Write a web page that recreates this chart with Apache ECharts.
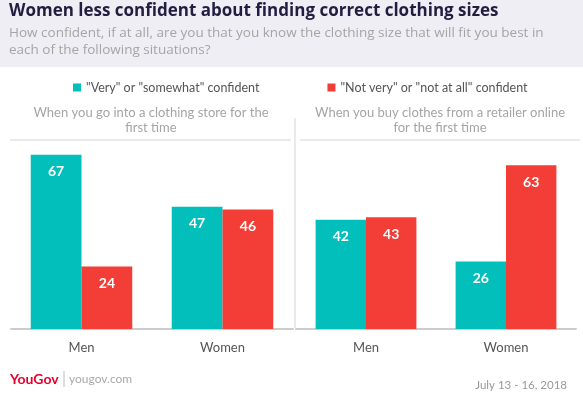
<!DOCTYPE html>
<html>
<head>
<meta charset="utf-8">
<script src="https://cdn.jsdelivr.net/npm/echarts@6/dist/echarts.min.js"></script>
<style>
  html, body { margin: 0; padding: 0; background: #fff; }
  #chart { width: 583px; height: 396px; }
</style>
</head>
<body>
<div id="chart"></div>
<script>
const categories = ["Men", "Women"];
const legendNames = ['"Very" or "somewhat" confident', '"Not very" or "not at all" confident'];
const storeConfident = [67, 47];
const storeNotConfident = [24, 46];
const onlineConfident = [42, 26];
const onlineNotConfident = [43, 63];

const TEAL = "#02bfbb";
const RED = "#f23e37";
const FONT = "Lato, 'Open Sans', sans-serif";
const HEAD_FONT = "'Open Sans', Lato, sans-serif";

let myChart = echarts.init(document.getElementById("chart"));

const barLabel = {
  show: true,
  position: "insideTop",
  distance: 10,
  color: "#fff",
  fontWeight: "bold",
  fontSize: 14,
  fontFamily: FONT,
};

const makeBar = (name, data, color, idx) => ({
  name: name,
  type: "bar",
  xAxisIndex: idx,
  yAxisIndex: idx,
  data: data,
  barGap: "0%",
  barCategoryGap: "28%",
  itemStyle: { color: color },
  label: barLabel,
  silent: true,
});

const xAxisBase = (idx) => ({
  type: "category",
  gridIndex: idx,
  data: categories,
  axisLine: { lineStyle: { color: "#cccccc", width: 2 } },
  axisTick: { show: false },
  axisLabel: { color: "#555", fontSize: 13, fontFamily: FONT, margin: 12 },
});

const yAxisBase = (idx) => ({
  type: "value",
  gridIndex: idx,
  min: 0,
  max: 70,
  show: false,
  splitLine: { show: false },
});

myChart.setOption({
  animation: false,
  textStyle: { fontFamily: FONT },
  legend: {
    data: legendNames,
    top: 76,
    left: 68,
    itemGap: 68,
    itemWidth: 8,
    itemHeight: 8,
    icon: "rect",
    textStyle: { color: "#555", fontSize: 12.5, fontFamily: FONT },
  },
  grid: [
    { left: 11, width: 282, top: 147, bottom: 67 },
    { left: 296, width: 280, top: 147, bottom: 67 },
  ],
  xAxis: [xAxisBase(0), xAxisBase(1)],
  yAxis: [yAxisBase(0), yAxisBase(1)],
  series: [
    makeBar(legendNames[0], storeConfident, TEAL, 0),
    makeBar(legendNames[1], storeNotConfident, RED, 0),
    makeBar(legendNames[0], onlineConfident, TEAL, 1),
    makeBar(legendNames[1], onlineNotConfident, RED, 1),
  ],
  graphic: [
    // header band
    { type: "rect", z: -10, shape: { x: 0, y: 0, width: 583, height: 67 }, style: { fill: "#efeef5" } },
    {
      type: "text", left: 9, top: 3,
      style: { text: "Women less confident about finding correct clothing sizes", fill: "#231d40", font: "bold 17px " + HEAD_FONT },
    },
    {
      type: "text", left: 9, top: 25,
      style: {
        text: "How confident, if at all, are you that you know the clothing size that will fit you best in\neach of the following situations?",
        fill: "#a5a5a5", font: "13.5px " + HEAD_FONT, lineHeight: 17,
      },
    },
    // panel titles
    {
      type: "text", x: 151, y: 105,
      style: { text: "When you go into a clothing store for the\nfirst time", fill: "#a5a5a5", font: "13px " + FONT, lineHeight: 15, textAlign: "center" },
    },
    {
      type: "text", x: 440, y: 105,
      style: { text: "When you buy clothes from a retailer online\nfor the first time", fill: "#a5a5a5", font: "13px " + FONT, lineHeight: 15, textAlign: "center" },
    },
    { type: "line", shape: { x1: 10, y1: 140, x2: 291, y2: 140 }, style: { stroke: "#d5d5d5", lineWidth: 1 } },
    { type: "line", shape: { x1: 300, y1: 140, x2: 580, y2: 140 }, style: { stroke: "#d5d5d5", lineWidth: 1 } },
    { type: "line", shape: { x1: 295, y1: 118, x2: 295, y2: 328 }, style: { stroke: "#d5d5d5", lineWidth: 1 } },
    // footer
    {
      type: "text", left: 10, top: 372,
      style: { text: "YouGov", fill: "#e4002b", font: "bold 14px " + FONT },
    },
    { type: "line", shape: { x1: 64, y1: 371, x2: 64, y2: 387 }, style: { stroke: "#bbb", lineWidth: 1 } },
    {
      type: "text", left: 69, top: 373,
      style: { text: "yougov.com", fill: "#aaa", font: "12px " + FONT },
    },
    {
      type: "text", right: 16, top: 379,
      style: { text: "July 13 - 16, 2018", fill: "#999", font: "11.5px " + FONT },
    },
  ],
});
</script>
</body>
</html>
